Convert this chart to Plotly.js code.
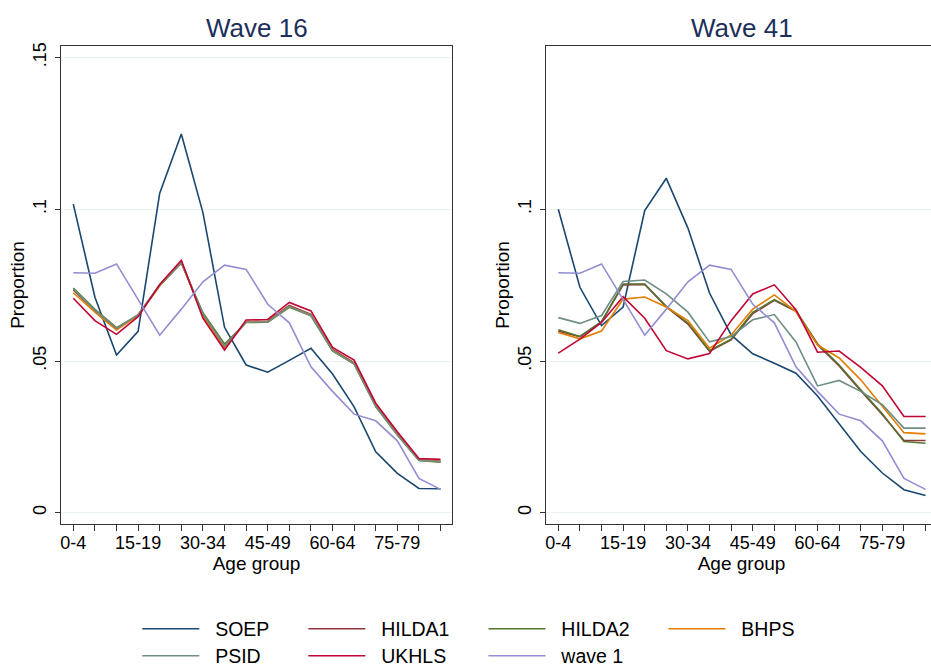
<!DOCTYPE html>
<html>
<head>
<meta charset="utf-8">
<script src="https://cdn.plot.ly/plotly-3.0.1.min.js"></script>
<style>
html, body { margin: 0; padding: 0; overflow: hidden; background: #fff; width: 931px; height: 668px; }
#chart { width: 940px; height: 668px; }
</style>
</head>
<body>
<div id="chart"></div>
<script>
var ageGroups = ['0-4','5-9','10-14','15-19','20-24','25-29','30-34','35-39','40-44','45-49','50-54','55-59','60-64','65-69','70-74','75-79','80-84','85+'];
var shownTickLabels = ['0-4','','','15-19','','','30-34','','','45-49','','','60-64','','','75-79','',''];
var seriesNames = ['SOEP','HILDA1','HILDA2','BHPS','PSID','UKHLS','wave 1'];
var seriesColors = ['#1a476f','#90353b','#55752f','#e37e00','#6e8e84','#c10534','#938dd2'];
var panelTitles = ['Wave 16','Wave 41'];
var yTicks16 = [0, 0.05, 0.1, 0.15];
var yTickText16 = ['0', '.05', '.1', '.15'];
var yTicks41 = [0, 0.05, 0.1];
var yTickText41 = ['0', '.05', '.1'];

// Wave 16
var w16SOEP   = [0.1017,0.0710,0.0520,0.0598,0.1053,0.1248,0.0989,0.0611,0.0487,0.0463,0.0502,0.0542,0.0457,0.0349,0.0201,0.0130,0.0080,0.0079];
var w16HILDA1 = [0.0734,0.0666,0.0606,0.0652,0.0750,0.0828,0.0650,0.0543,0.0630,0.0631,0.0683,0.0654,0.0538,0.0494,0.0354,0.0260,0.0175,0.0170];
var w16HILDA2 = [0.0740,0.0670,0.0610,0.0650,0.0748,0.0822,0.0659,0.0556,0.0627,0.0628,0.0677,0.0649,0.0533,0.0490,0.0350,0.0256,0.0172,0.0167];
var w16BHPS   = [0.0725,0.0661,0.0602,0.0650,0.0749,0.0826,0.0647,0.0546,0.0629,0.0630,0.0680,0.0651,0.0535,0.0492,0.0352,0.0258,0.0174,0.0169];
var w16PSID   = [0.0737,0.0668,0.0608,0.0653,0.0751,0.0825,0.0655,0.0550,0.0628,0.0629,0.0679,0.0650,0.0534,0.0491,0.0351,0.0257,0.0173,0.0168];
var w16UKHLS  = [0.0707,0.0633,0.0588,0.0646,0.0752,0.0832,0.0641,0.0536,0.0635,0.0637,0.0693,0.0665,0.0545,0.0503,0.0361,0.0267,0.0179,0.0176];
// Wave 41
var w41SOEP   = [0.1000,0.0743,0.0617,0.0678,0.0996,0.1102,0.0938,0.0724,0.0586,0.0524,0.0493,0.0460,0.0385,0.0295,0.0202,0.0131,0.0076,0.0057];
var w41HILDA1 = [0.0598,0.0580,0.0629,0.0751,0.0752,0.0678,0.0622,0.0532,0.0570,0.0656,0.0700,0.0664,0.0554,0.0484,0.0402,0.0323,0.0238,0.0238];
var w41HILDA2 = [0.0603,0.0581,0.0630,0.0754,0.0754,0.0680,0.0625,0.0534,0.0572,0.0660,0.0702,0.0666,0.0557,0.0487,0.0405,0.0326,0.0235,0.0229];
var w41BHPS   = [0.0594,0.0573,0.0599,0.0704,0.0711,0.0678,0.0633,0.0542,0.0586,0.0671,0.0718,0.0663,0.0553,0.0510,0.0438,0.0350,0.0264,0.0260];
var w41PSID   = [0.0643,0.0624,0.0650,0.0762,0.0767,0.0721,0.0661,0.0563,0.0581,0.0636,0.0653,0.0563,0.0418,0.0436,0.0400,0.0356,0.0279,0.0279];
var w41UKHLS  = [0.0526,0.0572,0.0627,0.0712,0.0641,0.0534,0.0507,0.0525,0.0633,0.0721,0.0751,0.0669,0.0529,0.0533,0.0479,0.0418,0.0317,0.0317];
// Baseline (wave 1), same in both panels
var wave1     = [0.0791,0.0789,0.0820,0.0703,0.0585,0.0671,0.0761,0.0816,0.0802,0.0687,0.0626,0.0481,0.0400,0.0325,0.0303,0.0237,0.0113,0.0077];

var panel16 = [w16SOEP, w16HILDA1, w16HILDA2, w16BHPS, w16PSID, w16UKHLS, wave1];
var panel41 = [w41SOEP, w41HILDA1, w41HILDA2, w41BHPS, w41PSID, w41UKHLS, wave1];

var W = 940, H = 668;
var xIdx = ageGroups.map(function(_, i){ return i; });
var legendIds = ['legend','legend2','legend3','legend4','legend5','legend6','legend7'];

var traces = [];
seriesNames.forEach(function(name, k){
  traces.push({
    x: xIdx, y: panel16[k], name: '\u00a0\u00a0' + name, type: 'scatter', mode: 'lines',
    line: {color: seriesColors[k], width: 1.6},
    xaxis: 'x', yaxis: 'y', showlegend: true, legend: legendIds[k]
  });
});
seriesNames.forEach(function(name, k){
  traces.push({
    x: xIdx, y: panel41[k], name: name, type: 'scatter', mode: 'lines',
    line: {color: seriesColors[k], width: 1.6},
    xaxis: 'x2', yaxis: 'y2', showlegend: false
  });
});

var font = 'Liberation Sans, Arial, sans-serif';
function xAxis(domain, anchor){
  return {
    domain: domain, anchor: anchor, range: [-0.57, 17.53],
    tickmode: 'array', tickvals: xIdx, ticktext: shownTickLabels,
    ticks: 'outside', ticklen: 6, tickwidth: 1, tickcolor: '#333',
    showgrid: false, zeroline: false,
    showline: true, linecolor: '#333', linewidth: 1.2, mirror: true,
    tickfont: {family: font, size: 18, color: '#000'},
    ticklabelstandoff: -4,
    title: {text: 'Age group', font: {family: font, size: 19, color: '#000'}, standoff: 5}
  };
}
function yAxis(anchor, tv, tt){
  return {
    domain: [(H-524)/H, (H-46)/H], anchor: anchor, range: [-0.0037, 0.1538],
    tickmode: 'array', tickvals: tv, ticktext: tt, tickangle: -90,
    ticks: 'outside', ticklen: 5, tickwidth: 1, tickcolor: '#333',
    showgrid: true, gridcolor: '#eaf2f3', gridwidth: 1, zeroline: false,
    showline: true, linecolor: '#333', linewidth: 1.2, mirror: true,
    tickfont: {family: font, size: 18, color: '#000'},
    ticklabelstandoff: 2,
    title: {text: 'Proportion', font: {family: font, size: 19, color: '#000'}, standoff: 0}
  };
}

var legendRows = [629, 629, 629, 629, 656, 656, 656];
var legendCols = [143.3, 309.3, 489.5, 669.5, 143.3, 309.3, 489.5];

var layout = {
  width: W, height: H,
  margin: {l: 0, r: 0, t: 0, b: 0, autoexpand: false},
  paper_bgcolor: '#fff', plot_bgcolor: '#fff',
  font: {family: font, color: '#000'},
  xaxis: xAxis([61/W, 452/W], 'y'),
  yaxis: yAxis('x', yTicks16, yTickText16),
  xaxis2: xAxis([546/W, 937/W], 'y2'),
  yaxis2: yAxis('x2', yTicks41, yTickText41),
  annotations: panelTitles.map(function(t, i){
    return {text: t, xref: 'paper', yref: 'paper',
      x: (i === 0 ? 256.5 : 741.5)/W, y: 1 - 27.5/H, xanchor: 'center', yanchor: 'middle',
      showarrow: false, font: {family: font, size: 26, color: '#1c2f5c'}};
  })
};
legendIds.forEach(function(id, k){
  layout[id] = {
    x: (legendCols[k] - 6)/W, xanchor: 'left', y: 1 - legendRows[k]/H, yanchor: 'middle',
    orientation: 'v', bgcolor: 'rgba(0,0,0,0)', borderwidth: 0,
    itemwidth: 57, font: {family: font, size: 19.5, color: '#000'}
  };
});

Plotly.newPlot('chart', traces, layout, {displayModeBar: false, staticPlot: true});
</script>
</body>
</html>
